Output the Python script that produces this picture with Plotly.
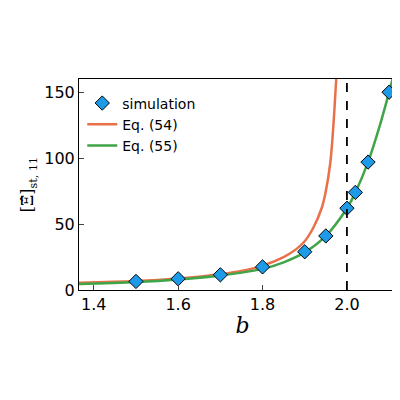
import plotly.graph_objects as go

sim_b = [1.5, 1.6, 1.7, 1.8, 1.9, 1.95, 2.0, 2.02, 2.05, 2.1]
sim_v = [6.5, 8.5, 11.5, 17.5, 29, 41, 62, 74, 97, 150]
eq54_b = [1.365, 1.5, 1.6, 1.7, 1.75, 1.8, 1.85, 1.88, 1.9, 1.92, 1.94, 1.95, 1.96, 1.965, 1.97, 1.975]
eq54_v = [5.5, 6.8, 8.8, 12, 14.5, 18.5, 25, 31, 37, 47, 62, 75, 95, 112, 135, 162]
eq55_b = [1.365, 1.5, 1.6, 1.7, 1.8, 1.85, 1.9, 1.95, 2.0, 2.02, 2.05, 2.08, 2.1, 2.12]
eq55_v = [4.5, 6, 8, 11, 16, 21, 28.5, 41, 62, 74, 97, 127, 150, 175]

fig = go.Figure()
fig.add_trace(go.Scatter(x=eq54_b, y=eq54_v, mode="lines", name="Eq. (54)", legendrank=2,
                         line=dict(color="#e8714a", width=2.5, shape="spline")))
fig.add_trace(go.Scatter(x=eq55_b, y=eq55_v, mode="lines", name="Eq. (55)", legendrank=3,
                         line=dict(color="#3fa548", width=2.5, shape="spline")))
fig.add_trace(go.Scatter(x=sim_b, y=sim_v, mode="markers", name="simulation", legendrank=1,
                         marker=dict(symbol="diamond", size=11, color="#1e9be8",
                                     line=dict(color="black", width=1))))
fig.add_vline(x=2.0, line=dict(color="black", width=1.8, dash="dash"))
fig.update_layout(
    width=400, height=400, margin=dict(l=71, r=2, t=71, b=118),
    paper_bgcolor="white", plot_bgcolor="white",
    font=dict(family="DejaVu Sans", size=16, color="black"),
    showlegend=True,
    legend=dict(x=0.01, y=0.96, xanchor="left", yanchor="top", bgcolor="rgba(0,0,0,0)",
                font=dict(size=14), tracegroupgap=0, itemwidth=30),
    xaxis=dict(range=[1.365, 2.14], tickvals=[1.4, 1.6, 1.8, 2.0], ticktext=["1.4", "1.6", "1.8", "2.0"],
               ticks="inside", showline=True, linecolor="black", mirror=True, showgrid=False, zeroline=False,
               title=dict(text="<i>b</i>", font=dict(family="DejaVu Serif", size=22), standoff=4)),
    yaxis=dict(range=[0, 160], tickvals=[0, 50, 100, 150],
               ticks="inside", showline=True, linecolor="black", mirror=True, showgrid=False, zeroline=False,
               title=dict(text="[Ξ̂]<sub>st, 11</sub>", font=dict(family="DejaVu Serif", size=16), standoff=6)),
)
fig.write_html("out.html")
